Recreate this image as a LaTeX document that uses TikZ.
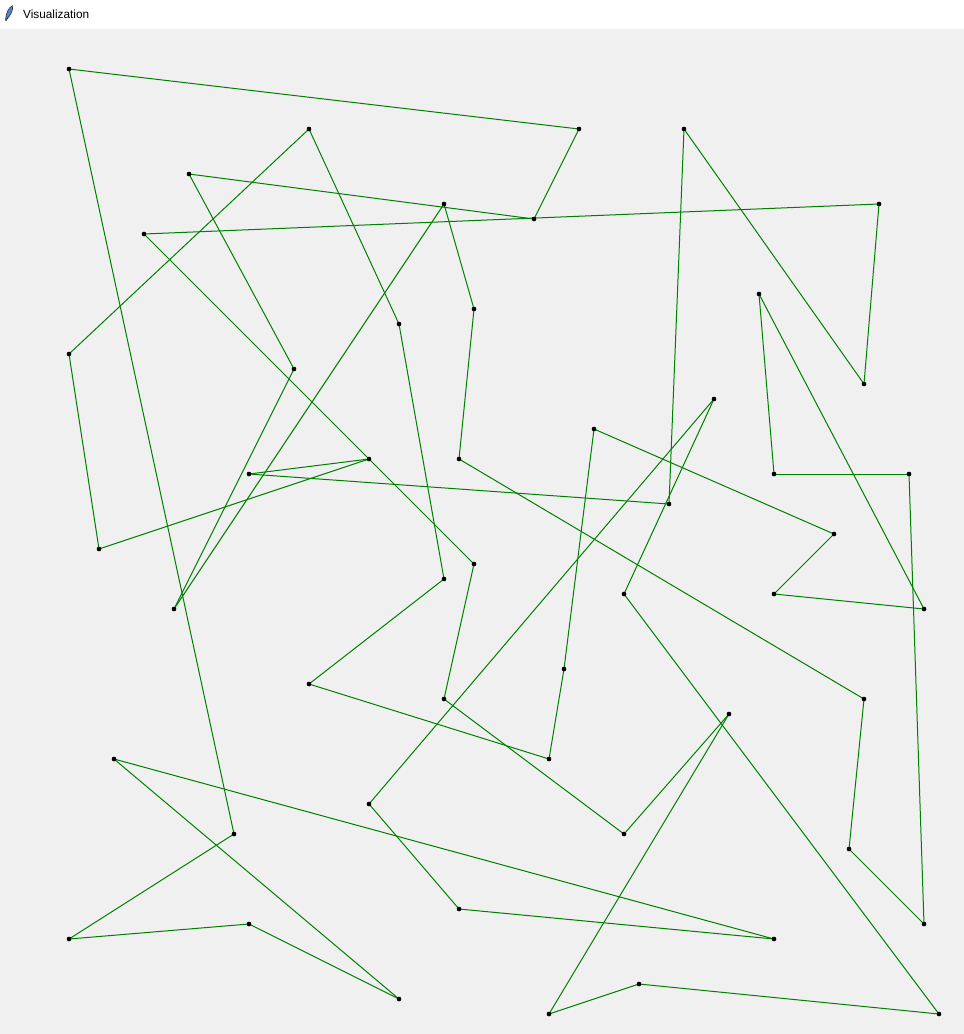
\documentclass[tikz,border=0pt]{standalone}
\usepackage{fontspec}
\setmainfont{Liberation Sans}
\definecolor{tourgreen}{RGB}{0,128,0}
\definecolor{canvasgray}{RGB}{240,240,240}
\definecolor{featherblue}{RGB}{80,130,210}
\tikzset{city/.style={circle, fill=black, inner sep=0pt, minimum size=4.2pt}}

\begin{document}
\begin{tikzpicture}[x=1pt, y=-1pt]
			%%%%% WINDOW %%%%%
			\useasboundingbox (0, 0) rectangle (964, 1034);
			\fill[canvasgray] (0, 29) rectangle (964, 1034);
			\fill[white] (0, 0) rectangle (964, 29);
			\draw[fill=featherblue, draw=black!80, line width=0.6pt, rotate around={-25:(9, 13)}] (9, 21) .. controls (6, 14) and (6.5, 8) .. (9, 5) .. controls (11.5, 8) and (12, 14) .. (9, 21) -- cycle;
			\draw[black!80, line width=0.6pt] (6, 21) -- (8, 17);
			\node[anchor=base west, inner sep=0pt, font=\fontsize{11.8}{14}\selectfont] (title) at (23, 18) {Visualization};
			
			%%%%% CITIES %%%%%
			\node[city] (p1) at (69, 69) {};
			\node[city] (p2) at (579, 129) {};
			\node[city] (p3) at (534, 219) {};
			\node[city] (p4) at (189, 174) {};
			\node[city] (p5) at (294, 369) {};
			\node[city] (p6) at (174, 609) {};
			\node[city] (p7) at (444, 204) {};
			\node[city] (p8) at (474, 309) {};
			\node[city] (p9) at (459, 459) {};
			\node[city] (p10) at (864, 699) {};
			\node[city] (p11) at (849, 849) {};
			\node[city] (p12) at (924, 924) {};
			\node[city] (p13) at (909, 474) {};
			\node[city] (p14) at (774, 474) {};
			\node[city] (p15) at (759, 294) {};
			\node[city] (p16) at (924, 609) {};
			\node[city] (p17) at (774, 594) {};
			\node[city] (p18) at (834, 534) {};
			\node[city] (p19) at (594, 429) {};
			\node[city] (p20) at (564, 669) {};
			\node[city] (p21) at (549, 759) {};
			\node[city] (p22) at (309, 684) {};
			\node[city] (p23) at (444, 579) {};
			\node[city] (p24) at (399, 324) {};
			\node[city] (p25) at (309, 129) {};
			\node[city] (p26) at (69, 354) {};
			\node[city] (p27) at (99, 549) {};
			\node[city] (p28) at (369, 459) {};
			\node[city] (p29) at (249, 474) {};
			\node[city] (p30) at (669, 504) {};
			\node[city] (p31) at (684, 129) {};
			\node[city] (p32) at (864, 384) {};
			\node[city] (p33) at (879, 204) {};
			\node[city] (p34) at (144, 234) {};
			\node[city] (p35) at (474, 564) {};
			\node[city] (p36) at (444, 699) {};
			\node[city] (p37) at (624, 834) {};
			\node[city] (p38) at (729, 714) {};
			\node[city] (p39) at (549, 1014) {};
			\node[city] (p40) at (639, 984) {};
			\node[city] (p41) at (939, 1014) {};
			\node[city] (p42) at (624, 594) {};
			\node[city] (p43) at (714, 399) {};
			\node[city] (p44) at (369, 804) {};
			\node[city] (p45) at (459, 909) {};
			\node[city] (p46) at (774, 939) {};
			\node[city] (p47) at (114, 759) {};
			\node[city] (p48) at (399, 999) {};
			\node[city] (p49) at (249, 924) {};
			\node[city] (p50) at (69, 939) {};
			\node[city] (p51) at (234, 834) {};
			
			%%%%% TOUR %%%%%
			\foreach \a/\b in {1/2,2/3,3/4,4/5,5/6,6/7,7/8,8/9,9/10,10/11,11/12,12/13,13/14,14/15,15/16,16/17,17/18,18/19,19/20,20/21,21/22,22/23,23/24,24/25,25/26,26/27,27/28,28/29,29/30,30/31,31/32,32/33,33/34,34/35,35/36,36/37,37/38,38/39,39/40,40/41,41/42,42/43,43/44,44/45,45/46,46/47,47/48,48/49,49/50,50/51,51/1}
				\draw[tourgreen, line width=1pt] (p\a.center) -- (p\b.center);
			
			%%%%% DOTS ON TOP %%%%%
			\foreach \i in {1,...,51}
				\fill[black] (p\i) circle (2.3pt);
		\end{tikzpicture}
\end{document}
